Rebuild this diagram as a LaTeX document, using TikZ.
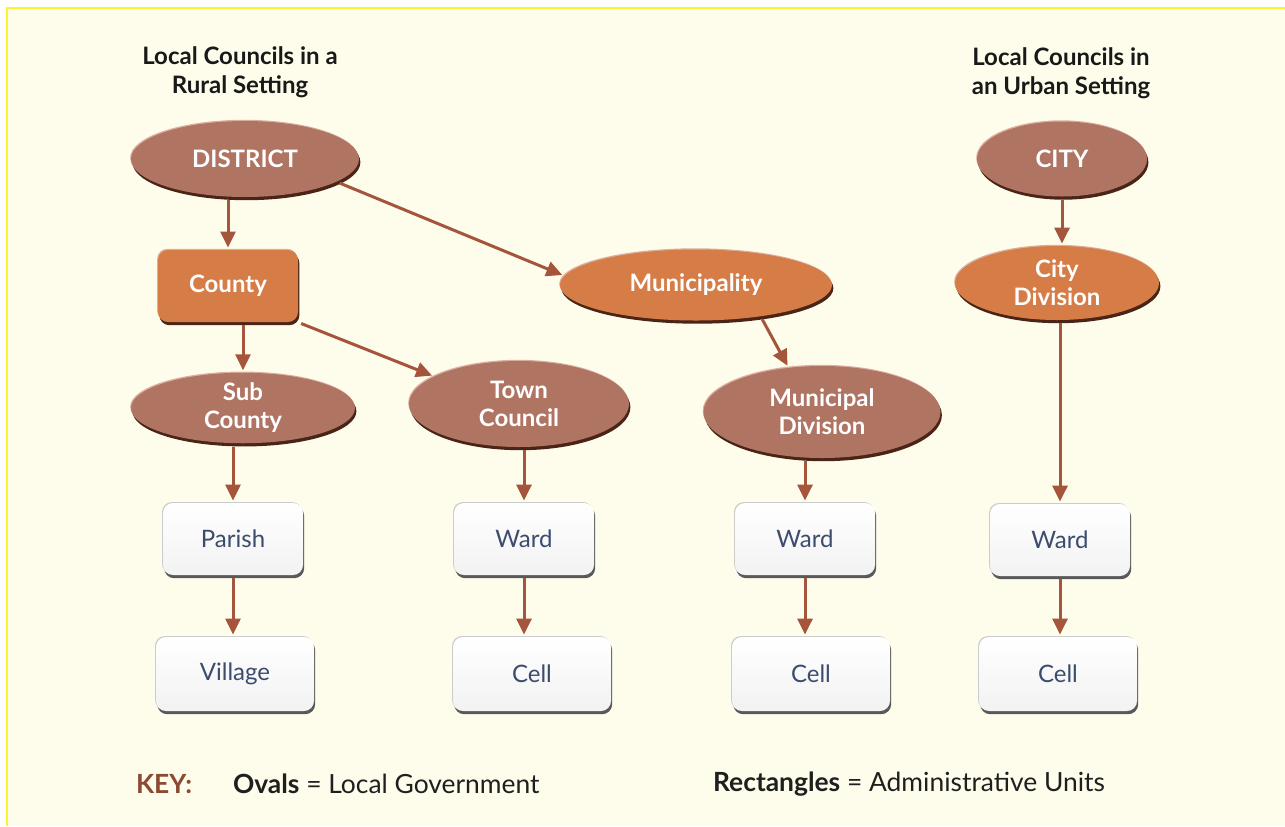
\documentclass[tikz,border=0pt]{standalone}
\usepackage{fontspec}
\setmainfont{Lato}
\usetikzlibrary{shapes.geometric,shadows,arrows.meta}

\definecolor{paper}{HTML}{FEFDEB}
\definecolor{rim}{HTML}{FFF22E}
\definecolor{clay}{HTML}{B07463}
\definecolor{rust}{HTML}{D67D47}
\definecolor{bark}{HTML}{4A2416}
\definecolor{blush}{HTML}{DCAE9F}
\definecolor{link}{HTML}{A5553C}
\definecolor{slate}{HTML}{3B4C6E}
\definecolor{keybrown}{HTML}{8C4A32}

\begin{document}
\begin{tikzpicture}[x=0.5pt,y=-0.5pt,
  oval/.style={ellipse, inner sep=0pt, fill=clay, text=white, align=center,
    font=\bfseries\fontsize{12}{14}\selectfont,
    general shadow={fill=bark, shadow xshift=0.7pt, shadow yshift=-1.6pt},
    general shadow={fill=blush, shadow xshift=-0.4pt, shadow yshift=0.6pt}},
  unit/.style={rectangle, rounded corners=5pt, top color=white, bottom color=black!5,
    text=slate, font=\fontsize{12}{14}\selectfont,
    minimum width=70pt, minimum height=36pt,
    general shadow={fill=black!65, shadow xshift=0.6pt, shadow yshift=-1.6pt},
    general shadow={fill=black!20, shadow xshift=-0.5pt, shadow yshift=0.5pt}},
  wide/.style={minimum width=79pt, minimum height=37pt},
  title/.style={align=center, text=black!90, font=\bfseries\fontsize{12}{14.5}\selectfont},
  keytext/.style={anchor=west, text=black!88, font=\fontsize{13.2}{15}\selectfont},
  link/.style={draw=link, line width=1.5pt, -{Triangle[length=8pt,width=7.5pt]},
    shorten <=1.5pt, shorten >=1pt}]

\useasboundingbox (0,0) rectangle (1285,826);
\fill [white] (0,0) rectangle (1285,826);
\fill [paper] (7,8) rectangle (1285,826);
\draw [rim, line width=1pt] (7,826) -- (7,8) -- (1285,8);

% headings
\node [title] (rural) at (240,72) {Local Councils in a\\Rural Setting};
\node [title] (urban) at (1061,73) {Local Councils in\\an Urban Setting};

% local governments
\node [oval, minimum width=114pt, minimum height=38pt] (district) at (245,159) {DISTRICT};
\node [rectangle, rounded corners=5pt, fill=rust, text=white, minimum width=70pt, minimum height=36pt,
  font=\bfseries\fontsize{12}{14}\selectfont,
  general shadow={fill=bark, shadow xshift=0.7pt, shadow yshift=-1.6pt},
  general shadow={fill=blush, shadow xshift=-0.4pt, shadow yshift=0.6pt}] (county) at (228,286) {County};
\node [oval, minimum width=112pt, minimum height=35pt] (subcounty) at (243,408) {Sub\\County};
\node [oval, minimum width=110pt, minimum height=43pt] (towncouncil) at (519,404) {Town\\Council};
\node [oval, fill=rust, minimum width=136pt, minimum height=35.5pt] (municipality) at (696,285) {Municipality};
\node [oval, minimum width=118.5pt, minimum height=46pt] (mundiv) at (822,412) {Municipal\\Division};
\node [oval, minimum width=85pt, minimum height=37.5pt] (city) at (1062,159) {CITY};
\node [oval, fill=rust, minimum width=102pt, minimum height=37pt] (citydiv) at (1057,283) {City\\Division};

% administrative units
\node [unit] (parish) at (233,539) {Parish};
\node [unit, wide] (village) at (235,674) {Village};
\node [unit] (ward1) at (524,539) {Ward};
\node [unit, wide] (cell1) at (532,674) {Cell};
\node [unit] (ward2) at (805,539) {Ward};
\node [unit, wide] (cell2) at (811,674) {Cell};
\node [unit] (ward3) at (1060,540) {Ward};
\node [unit, wide] (cell3) at (1058,674) {Cell};

% links
\path [link] (district.south -| county.north) -- (county.north);
\path [link] (district.-14) -- (municipality.176);
\path [link] (county.south -| subcounty.north) -- (subcounty.north);
\path [link] (county.south east) -- (towncouncil.162);
\path [link] (municipality.-26) -- (mundiv.127);
\path [link] (subcounty.south -| parish.north) -- (parish.north);
\path [link] (parish.south) -- (parish.south |- village.north);
\path [link] (towncouncil.south -| ward1.north) -- (ward1.north);
\path [link] (ward1.south) -- (ward1.south |- cell1.north);
\path [link] (mundiv.south -| ward2.north) -- (ward2.north);
\path [link] (ward2.south) -- (ward2.south |- cell2.north);
\path [link] (city.south) -- (city.south |- citydiv.north);
\path [link] (citydiv.south -| ward3.north) -- (ward3.north);
\path [link] (ward3.south) -- (ward3.south |- cell3.north);

% key
\node [keytext, text=keybrown, font=\bfseries\fontsize{13.2}{15}\selectfont] (key) at (129,784) {KEY:};
\node [keytext] (ovals) at (226,784) {\textbf{Ovals} = Local Government};
\node [keytext] (rects) at (706,784) {\textbf{Rectangles} = Administrative Units};
\end{tikzpicture}
\end{document}
